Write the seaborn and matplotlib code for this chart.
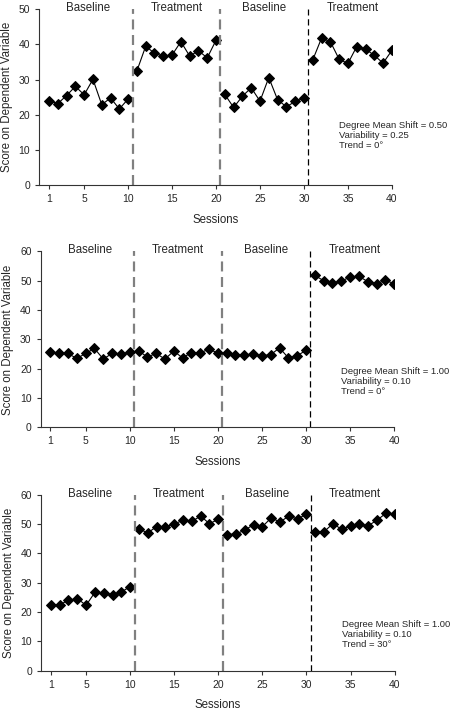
import numpy as np
import pandas as pd
import matplotlib
matplotlib.use("Agg")
import matplotlib.pyplot as plt
import seaborn as sns

sessions = list(range(1, 41))
phase_names = ["Baseline", "Treatment", "Baseline", "Treatment"]

# scores
scores_a = [24.0, 23.2, 25.5, 28.1, 25.7, 30.1, 22.9, 24.8, 21.7, 24.5,
            32.5, 39.5, 37.5, 36.7, 37.0, 40.8, 36.7, 38.2, 36.2, 41.2,
            25.8, 22.1, 25.3, 27.7, 23.9, 30.6, 24.3, 22.3, 23.8, 24.8,
            35.6, 41.8, 40.8, 35.8, 34.6, 39.4, 38.7, 36.9, 34.7, 38.3]
scores_b = [25.6, 25.2, 25.2, 23.5, 25.2, 26.9, 23.3, 25.2, 25.0, 25.6,
            26.1, 24.0, 25.2, 23.3, 26.0, 23.7, 25.5, 25.4, 26.7, 25.3,
            25.2, 24.7, 24.7, 25.0, 24.4, 24.8, 27.1, 23.7, 24.4, 26.3,
            51.8, 50.0, 49.2, 49.8, 51.3, 51.5, 49.7, 49.0, 50.1, 49.0]
scores_c = [22.5, 22.5, 24.0, 24.6, 22.3, 26.7, 26.5, 25.9, 26.8, 28.7,
            48.3, 47.0, 49.1, 49.1, 50.0, 51.3, 50.9, 52.7, 50.1, 51.6,
            46.4, 46.6, 47.9, 49.8, 49.1, 52.1, 50.7, 52.7, 51.7, 53.4,
            47.4, 47.4, 50.1, 48.2, 49.3, 49.9, 49.4, 51.3, 53.6, 53.5]

notes = ["Degree Mean Shift = 0.50\nVariability = 0.25\nTrend = 0\u00b0",
         "Degree Mean Shift = 1.00\nVariability = 0.10\nTrend = 0\u00b0",
         "Degree Mean Shift = 1.00\nVariability = 0.10\nTrend = 30\u00b0"]
y_max = [50, 60, 60]
x_ticks = [1, 5, 10, 15, 20, 25, 30, 35, 40]

sns.set_style("ticks")
plt.rcParams['font.family'] = ['Liberation Sans', 'DejaVu Sans']

fig = plt.figure(figsize=(4.52, 7.10), dpi=100)
boxes = [[0.087, 0.739, 0.780, 0.248],
         [0.090, 0.398, 0.782, 0.248],
         [0.091, 0.0553, 0.782, 0.248]]
note_y = [0.365, 0.344, 0.287]

for i, scores in enumerate([scores_a, scores_b, scores_c]):
    ax = fig.add_axes(boxes[i])
    df = pd.DataFrame({"session": sessions, "score": scores})
    df["segment"] = (df["session"] - 1) // 10
    sns.lineplot(data=df, x="session", y="score", units="segment", estimator=None,
                 color="black", lw=0.8, marker="D", markersize=4.8,
                 markeredgecolor="black", ax=ax, legend=False)

    ax.axvline(10.5, color="#808080", lw=1.6, ls=(0, (4.5, 2.5)))
    ax.axvline(20.5, color="#808080", lw=1.6, ls=(0, (4.5, 2.5)))
    ax.axvline(30.5, color="black", lw=0.9, ls=(0, (5, 3)))

    for k, name in enumerate(phase_names):
        ax.text(5.5 + 10 * k, 1.005, name, transform=ax.get_xaxis_transform(),
                ha="center", va="center", fontsize=8.3)

    ax.text(0.85, note_y[i], notes[i], transform=ax.transAxes,
            ha="left", va="top", fontsize=6.8, linespacing=1.15)

    ax.set_xlim(-0.1, 40)
    ax.set_ylim(0, y_max[i])
    ax.set_xticks(x_ticks)
    ax.set_yticks(range(0, y_max[i] + 1, 10))
    ax.tick_params(labelsize=7.5, length=3, width=0.8, color="#333333")
    ax.set_xlabel("Sessions", fontsize=8.3, labelpad=7)
    ax.set_ylabel("Score on Dependent Variable", fontsize=8.3, labelpad=4)
    for s in ["left", "bottom"]:
        ax.spines[s].set_linewidth(0.8)
        ax.spines[s].set_color("#333333")
    sns.despine(ax=ax)

fig.savefig("out.png", dpi=100)
